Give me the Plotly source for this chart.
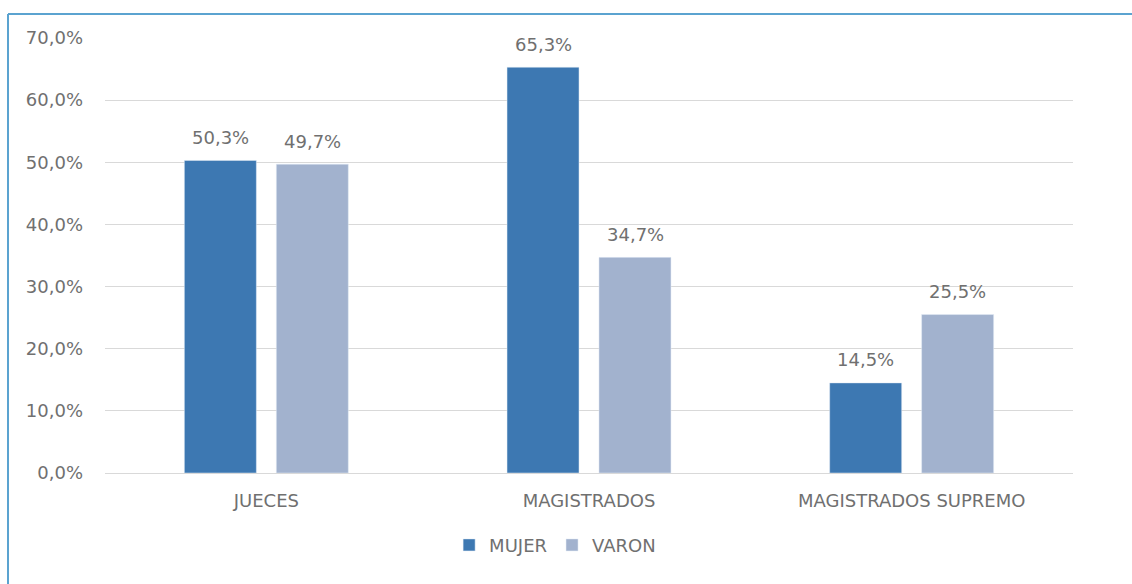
import plotly.graph_objects as go

categories = ["JUECES", "MAGISTRADOS", "MAGISTRADOS SUPREMO"]
mujer = [50.3, 65.3, 14.5]
varon = [49.7, 34.7, 25.5]
y_ticks = [0, 10, 20, 30, 40, 50, 60, 70]

C_MUJER = "#3D78B2"
C_VARON = "#A2B2CE"
GREY = "#707070"
FONT = "DejaVu Sans"
FS = 18


def pct(v):
    return f"{v:.1f}%".replace(".", ",")


fig = go.Figure()
fig.add_trace(go.Bar(name="MUJER", x=categories, y=mujer, marker_color=C_MUJER))
fig.add_trace(go.Bar(name="VARON", x=categories, y=varon, marker_color=C_VARON))

# value labels above bars
for vals, shift in ((mujer, -46), (varon, 46)):
    for c, v in zip(categories, vals):
        fig.add_annotation(x=c, y=v, text=pct(v),
                           showarrow=False, xshift=shift, yshift=23,
                           yanchor="middle", font=dict(family=FONT, size=FS, color=GREY))

# chart frame (top and left edges visible)
fig.add_shape(type="line", xref="paper", yref="paper", x0=-0.1002, x1=1.2, y0=1.0552, y1=1.0552,
              line=dict(color="#5BA3D0", width=2))
fig.add_shape(type="line", xref="paper", yref="paper", x0=-0.1002, x1=-0.1002, y0=1.0552, y1=-0.4,
              line=dict(color="#5BA3D0", width=2))

fig.update_layout(
    width=1132, height=584,
    margin=dict(l=105, r=59, t=38, b=111),
    paper_bgcolor="white", plot_bgcolor="white",
    barmode="group", bargap=0.43, bargroupgap=0.217,
    font=dict(family=FONT, size=FS, color=GREY),
    showlegend=True,
    legend=dict(orientation="h", x=0.465, xanchor="center", y=-0.166, yanchor="middle",
                font=dict(family=FONT, size=FS, color=GREY), itemwidth=30, traceorder="normal"),
)
fig.update_yaxes(range=[0, 70], tickvals=y_ticks, ticktext=[pct(t) for t in y_ticks],
                 showgrid=True, gridcolor="#D9D9D9", gridwidth=1,
                 zeroline=True, zerolinecolor="#D9D9D9", zerolinewidth=1,
                 showline=False, ticks="", ticklabelstandoff=21,
                 tickfont=dict(family=FONT, size=FS, color=GREY))
fig.update_xaxes(showline=False, ticks="", ticklabelstandoff=15,
                 tickfont=dict(family=FONT, size=FS, color=GREY))

fig.write_html("out.html", config={"displayModeBar": False},
               post_script="document.body.style.margin='0';document.body.style.overflow='hidden';")
